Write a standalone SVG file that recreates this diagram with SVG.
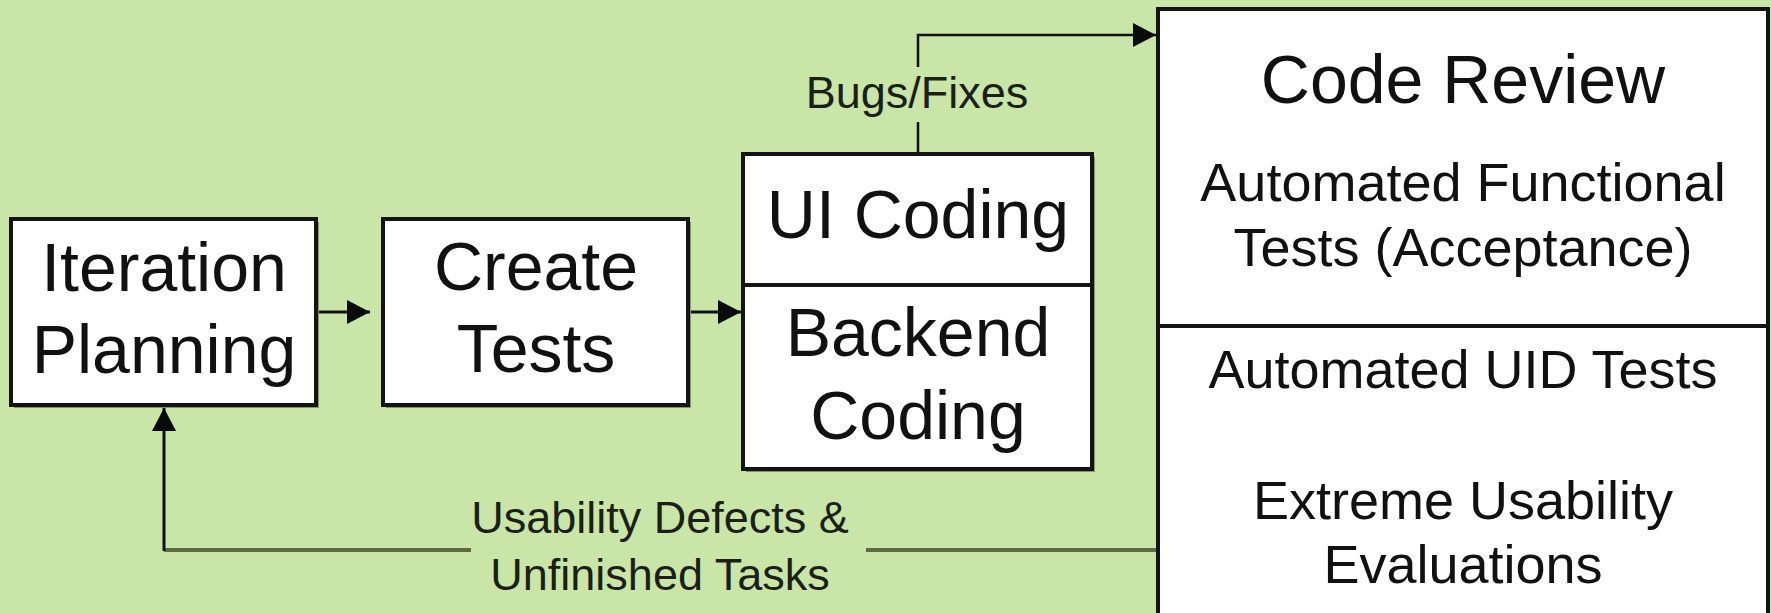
<svg xmlns="http://www.w3.org/2000/svg" width="1771" height="613" viewBox="0 0 1771 613">
  <defs>
    <style>
      .box { fill: #ffffff; stroke: #141414; stroke-width: 4; }
      .shadow { fill: #85946c; }
      .div { stroke: #141414; stroke-width: 4; fill: none; }
      .big { font-family: "Liberation Sans", Arial, sans-serif; font-size: 68px; fill: #111111; text-anchor: middle; }
      .mid { font-family: "Liberation Sans", Arial, sans-serif; font-size: 54px; fill: #111111; text-anchor: middle; }
      .lbl { font-family: "Liberation Sans", Arial, sans-serif; font-size: 45px; fill: #1c1f16; text-anchor: middle; }
      .edge { fill: none; stroke: #111111; stroke-width: 3; }
      .ret { fill: none; stroke: #5f6848; stroke-width: 4; }
      .bgpatch { fill: #c9e5a7; }
    </style>
    <marker id="head" markerUnits="userSpaceOnUse" markerWidth="24" markerHeight="26" refX="23" refY="12" orient="auto">
      <path d="M0,0 L23,12 L0,24 Z" fill="#0a0a0a"/>
    </marker>
  </defs>

  <!-- page background -->
  <rect x="0" y="0" width="1771" height="613" fill="#c9e5a7"/>

  <!-- connectors -->
  <g id="connectors">
    <!-- Iteration Planning to Create Tests -->
    <path class="edge" d="M318,312 H370" marker-end="url(#head)"/>
    <!-- Create Tests to coding box -->
    <path class="edge" d="M690,312 H741" marker-end="url(#head)"/>
    <!-- Bugs/Fixes feed to review -->
    <path class="edge" d="M918,152 V35 H1156" marker-end="url(#head)" style="stroke-width:2.5"/>
    <!-- feedback loop back to planning -->
    <path class="ret" d="M1156,550 H164"/>
    <path class="edge" d="M164,551 V408" marker-end="url(#head)"/>
    <!-- label backgrounds interrupt the lines -->
    <rect class="bgpatch" x="800" y="67" width="235" height="55"/>
    <rect class="bgpatch" x="471" y="540" width="395" height="20"/>
    <text class="lbl" x="917" y="108">Bugs/Fixes</text>
    <text class="lbl" x="660" y="533">Usability Defects &amp;</text>
    <text class="lbl" x="660" y="590">Unfinished Tasks</text>
  </g>

  <!-- Iteration Planning -->
  <g id="iteration-planning">
    <rect class="shadow" x="14" y="222" width="305" height="186"/>
    <rect class="box" x="11" y="219" width="305" height="186"/>
    <text class="big" x="164" y="291">Iteration</text>
    <text class="big" x="164" y="373">Planning</text>
  </g>

  <!-- Create Tests -->
  <g id="create-tests">
    <rect class="shadow" x="386" y="222" width="305" height="186"/>
    <rect class="box" x="383" y="219" width="305" height="186"/>
    <text class="big" x="536" y="290">Create</text>
    <text class="big" x="536" y="372">Tests</text>
  </g>

  <!-- UI Coding / Backend Coding -->
  <g id="coding">
    <rect class="shadow" x="746" y="157" width="349" height="315"/>
    <rect class="box" x="743" y="154" width="349" height="315"/>
    <line class="div" x1="743" y1="285" x2="1092" y2="285"/>
    <text class="big" x="918" y="238">UI Coding</text>
    <text class="big" x="918" y="356">Backend</text>
    <text class="big" x="918" y="439">Coding</text>
  </g>

  <!-- Code Review and tests -->
  <g id="review">
    <rect class="box" x="1158" y="9" width="610" height="620"/>
    <line class="div" x1="1158" y1="326" x2="1768" y2="326"/>
    <text class="big" x="1463" y="103">Code Review</text>
    <text class="mid" x="1463" y="201">Automated Functional</text>
    <text class="mid" x="1463" y="266">Tests (Acceptance)</text>
    <text class="mid" x="1463" y="388">Automated UID Tests</text>
    <text class="mid" x="1463" y="519">Extreme Usability</text>
    <text class="mid" x="1463" y="583">Evaluations</text>
  </g>
</svg>
